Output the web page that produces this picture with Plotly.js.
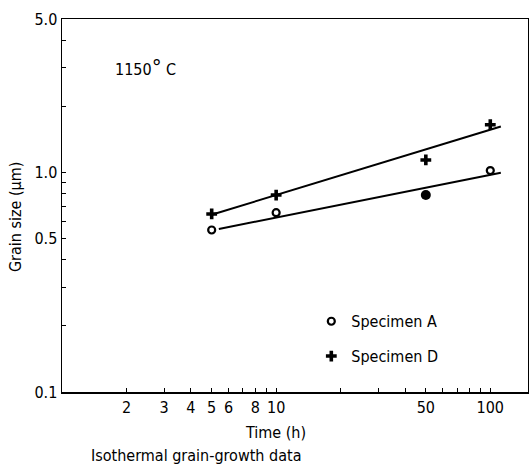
<!DOCTYPE html>
<html>
<head>
<meta charset="utf-8">
<script src="https://cdn.plot.ly/plotly-3.0.1.min.js"></script>
<style>html,body{margin:0;padding:0;background:#fff;}#chart{width:529px;height:467px;}</style>
</head>
<body>
<div id="chart"></div>
<script>
// Data (time in hours, grain size in micrometres)
const timeA = [5, 10, 100];
const sizeA = [0.547, 0.656, 1.02];
const timeA50 = [50];
const sizeA50 = [0.79];
const timeD = [5, 10, 50, 100];
const sizeD = [0.647, 0.789, 1.14, 1.65];
const fitTimeA = [5.4, 112];
const fitSizeA = [0.553, 0.998];
const fitTimeD = [4.95, 112];
const fitSizeD = [0.64, 1.62];
const xTickVals = [2, 3, 4, 5, 6, 7, 8, 9, 10, 20, 30, 40, 50, 60, 70, 80, 90, 100];
const xTickText = ['2', '3', '4', '5', '6', ' ', '8', ' ', '10', ' ', ' ', ' ', '50', ' ', ' ', ' ', ' ', '100'];
const yTickVals = [0.1, 0.2, 0.3, 0.4, 0.5, 0.6, 0.7, 0.8, 0.9, 1.0, 2, 3, 4, 5];
const yTickText = ['0.1', ' ', ' ', ' ', '0.5', ' ', ' ', ' ', ' ', '1.0', ' ', ' ', ' ', '5.0'];

const FONT = 'DejaVu Sans Condensed, Liberation Sans Narrow, sans-serif';
const BLACK = '#000';

const traces = [
  {x: fitTimeA, y: fitSizeA, mode: 'lines', line: {color: BLACK, width: 2}, showlegend: false, hoverinfo: 'skip'},
  {x: fitTimeD, y: fitSizeD, mode: 'lines', line: {color: BLACK, width: 2}, showlegend: false, hoverinfo: 'skip'},
  {x: timeA, y: sizeA, mode: 'markers', name: 'Specimen A', legendgroup: 'a',
   marker: {symbol: 'circle-open', size: 7, color: BLACK, line: {width: 2.2, color: BLACK}}},
  {x: timeA50, y: sizeA50, mode: 'markers', showlegend: false,
   marker: {symbol: 'circle', size: 10, color: BLACK}},
  {x: timeD, y: sizeD, mode: 'markers', name: 'Specimen D', legendgroup: 'd',
   marker: {symbol: 'cross', size: 9, color: BLACK}}
];

const layout = {
  width: 529, height: 467,
  margin: {l: 62, r: 1, t: 19, b: 75},
  paper_bgcolor: '#fff', plot_bgcolor: '#fff',
  font: {family: FONT, color: BLACK, size: 16},
  showlegend: true,
  legend: {x: 0.535, xanchor: 'left', y: 0.235, yanchor: 'top', bgcolor: 'rgba(0,0,0,0)',
           traceorder: 'grouped', tracegroupgap: 11, font: {family: FONT, size: 16, color: BLACK}},
  xaxis: {type: 'log', range: [0, Math.log10(150)], showgrid: false, zeroline: false,
          showline: true, linecolor: BLACK, linewidth: 1.5, mirror: true,
          ticks: 'inside', ticklen: 4, tickcolor: BLACK, tickwidth: 1, tickangle: 0,
          tickvals: xTickVals, ticktext: xTickText, tickfont: {size: 16, color: BLACK}},
  yaxis: {type: 'log', range: [-1, Math.log10(5)], showgrid: false, zeroline: false,
          showline: true, linecolor: BLACK, linewidth: 1.5, mirror: true,
          ticks: 'inside', ticklen: 4, tickcolor: BLACK, tickwidth: 1,
          tickvals: yTickVals, ticktext: yTickText, tickfont: {size: 16, color: BLACK}},
  annotations: [
    {text: 'Time (h)', xref: 'paper', yref: 'paper', x: (275 - 62) / 466, y: -0.108,
     xanchor: 'center', yanchor: 'middle', showarrow: false, font: {size: 16, color: BLACK}},
    {text: 'Isothermal grain-growth data', xref: 'paper', yref: 'paper', x: (196 - 62) / 466, y: -0.169,
     xanchor: 'center', yanchor: 'middle', showarrow: false, font: {size: 16, color: BLACK}},
    {text: 'Grain size (μm)', xref: 'paper', yref: 'paper', x: -0.1, y: 0.47, textangle: -90,
     xanchor: 'center', yanchor: 'middle', showarrow: false, font: {size: 16, color: BLACK}},
    {text: '1150<span style="font-size:22px">°</span> C', xref: 'paper', yref: 'paper', x: (113 - 62) / 466, y: 0.87,
     xanchor: 'left', yanchor: 'middle', showarrow: false, font: {size: 16, color: BLACK}}
  ]
};

Plotly.newPlot('chart', traces, layout, {displayModeBar: false, staticPlot: true});
</script>
</body>
</html>
